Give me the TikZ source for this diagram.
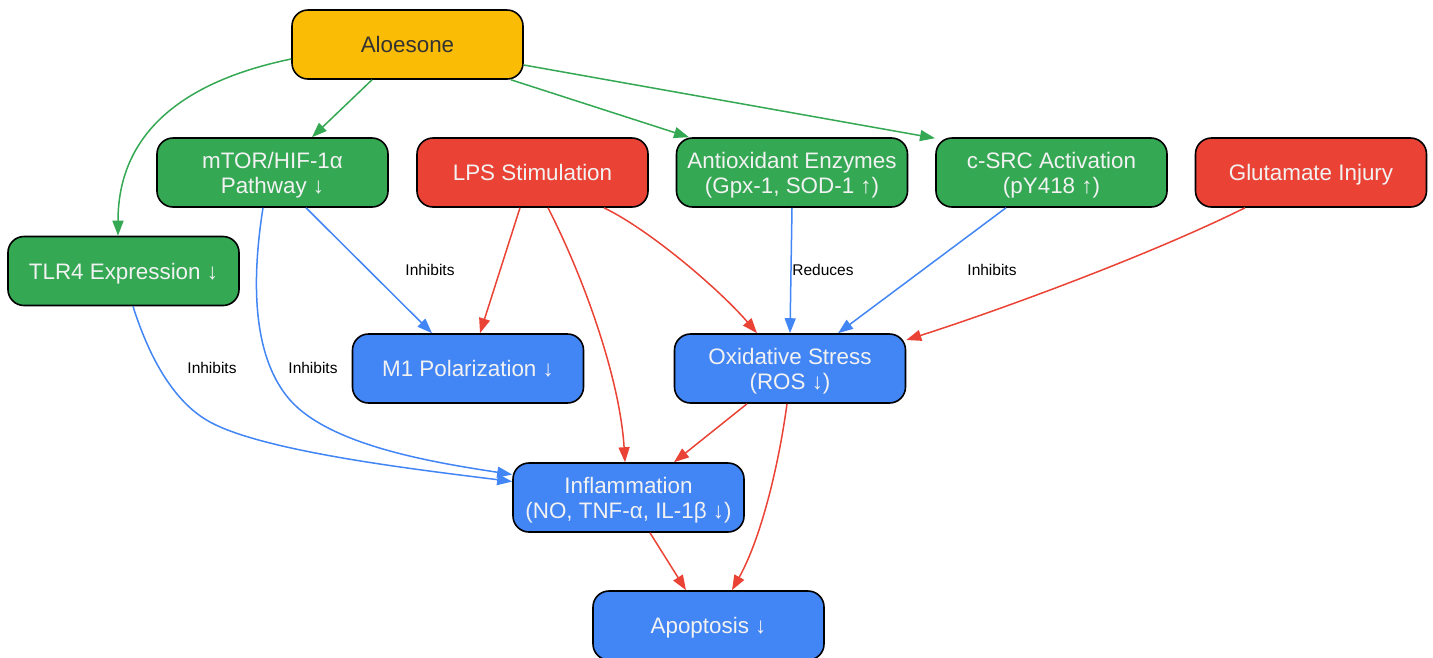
\documentclass[tikz,border=0pt]{standalone}
\usepackage{fontspec}
\setmainfont{Liberation Sans}
\usetikzlibrary{arrows.meta,calc}
\definecolor{cyel}{HTML}{FBBC05}
\definecolor{cgrn}{HTML}{34A853}
\definecolor{cred}{HTML}{EA4335}
\definecolor{cblu}{HTML}{4285F4}
\definecolor{ctxt}{HTML}{F2F2F2}
\definecolor{cdark}{HTML}{333333}
\tikzset{
  box/.style={draw=black, line width=1.6pt, rounded corners=16pt, minimum width=231pt, minimum height=69pt,
    align=center, inner sep=0pt, text depth=0pt, font=\fontsize{22.4}{25}\selectfont, text=ctxt},
  yelbox/.style={box, fill=cyel, text=cdark},
  grnbox/.style={box, fill=cgrn},
  redbox/.style={box, fill=cred},
  blubox/.style={box, fill=cblu},
  edge/.style={line width=1.5pt, -{Triangle[length=15pt,width=11pt]}},
  gedge/.style={edge, draw=cgrn},
  redge/.style={edge, draw=cred},
  bedge/.style={edge, draw=cblu},
  lbl/.style={font=\fontsize{15.5}{18}\selectfont, text=black}
}
\begin{document}
\begin{tikzpicture}[x=1pt,y=-1pt]
\useasboundingbox (0,0) rectangle (1433,657);
\node[yelbox] (aloe) at (407.5,44.5) {Aloesone};
\node[grnbox] (mtor) at (272.5,172.5) {mTOR/HIF-1α\\Pathway ↓};
\node[redbox] (lps) at (532.5,172.5) {LPS Stimulation};
\node[grnbox] (antiox) at (792,172.5) {Antioxidant Enzymes\\(Gpx-1, SOD-1 ↑)};
\node[grnbox] (csrc) at (1051.5,172.5) {c-SRC Activation\\(pY418 ↑)};
\node[redbox] (glu) at (1311,172.5) {Glutamate Injury};
\node[grnbox] (tlr) at (123.5,271) {TLR4 Expression ↓};
\node[blubox] (m1) at (468,368.5) {M1 Polarization ↓};
\node[blubox] (oxi) at (790,368.5) {Oxidative Stress\\(ROS ↓)};
\node[blubox] (infl) at (628.5,497.5) {Inflammation\\(NO, TNF-α, IL-1β ↓)};
\node[blubox] (apop) at (708.5,625.5) {Apoptosis ↓};

% green edges from Aloesone
\draw[gedge] ([yshift=-14.5]aloe.west) .. controls (180,82) and (118,135) .. ([xshift=-5.5]tlr.north);
\draw[gedge] ([xshift=-35.5]aloe.south) -- ([xshift=39.5]mtor.north);
\draw[gedge] ([xshift=103.5]aloe.south) -- ([xshift=-103]antiox.north);
\draw[gedge] ([yshift=-20.5]aloe.east) -- ([shift={(-116.5,1)}]csrc.north);

% blue edges
\draw[bedge] ([xshift=33.5]mtor.south) -- ([xshift=-36]m1.north);
\draw[bedge] ([xshift=-9.5]mtor.south) .. controls (250,290) and (255,360) .. (290,400)
   .. controls (330,445) and (430,462) .. ([yshift=23]infl.west);
\draw[bedge] ([xshift=9.5]tlr.south) .. controls (150,360) and (175,403) .. (210,422)
   .. controls (265,452) and (420,470) .. ([yshift=16]infl.west);
\draw[bedge] (antiox.south) -- (oxi.north);
\draw[bedge] ([xshift=-45.5]csrc.south) -- ([xshift=48]oxi.north);

% red edges
\draw[redge] ([xshift=-12.5]lps.south) -- ([xshift=12]m1.north);
\draw[redge] ([xshift=15.5]lps.south) .. controls (585,280) and (620,380) .. ([xshift=-3.5]infl.north);
\draw[redge] ([xshift=71.5]lps.south) .. controls (650,230) and (720,290) .. ([xshift=-33]oxi.north);
\draw[redge] ([xshift=-66]glu.south) .. controls (1150,255) and (1000,310) .. ([yshift=28.5]oxi.east);
\draw[redge] ([xshift=-43]oxi.south) -- ([xshift=45.5]infl.north);
\draw[redge] ([xshift=-3]oxi.south) .. controls (778,470) and (760,540) .. ([xshift=23.5]apop.north);
\draw[redge] ([xshift=21.5]infl.south) -- ([xshift=-22.5]apop.north);

% labels
\node[lbl] (l1) at (430,270) {Inhibits};
\node[lbl] (l2) at (212,368) {Inhibits};
\node[lbl] (l3) at (313,368) {Inhibits};
\node[lbl] (l4) at (823,270) {Reduces};
\node[lbl] (l5) at (992,270) {Inhibits};
\end{tikzpicture}
\end{document}
